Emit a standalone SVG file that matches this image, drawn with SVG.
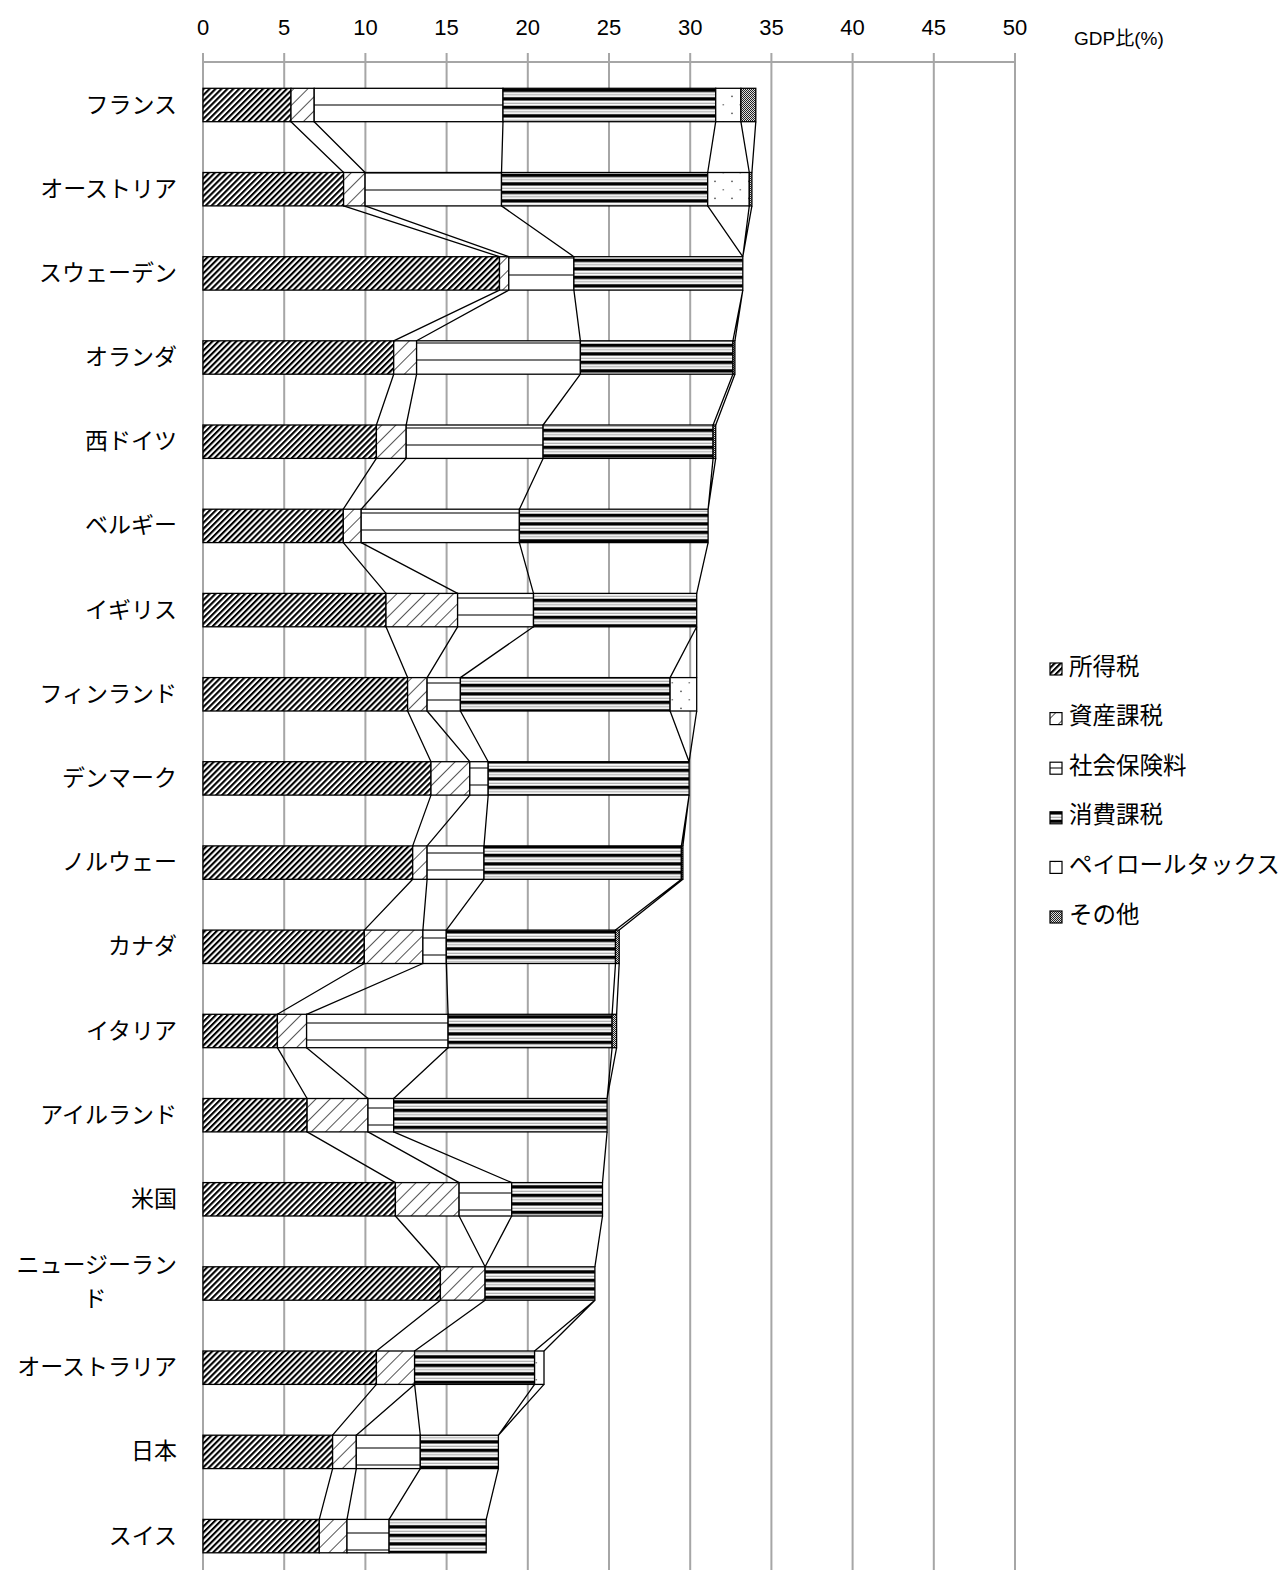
<svg xmlns="http://www.w3.org/2000/svg" width="1282" height="1570" viewBox="0 0 1282 1570">
<style>
.grid{stroke:#a6a6a6;stroke-width:2;fill:none}
.tick{font-family:"Liberation Sans",sans-serif;font-size:22px;fill:#000;text-anchor:middle}
.lab{font-family:"Noto Sans CJK JP",sans-serif;font-size:23px;fill:#000;text-anchor:end}
.leg{font-family:"Noto Sans CJK JP",sans-serif;font-size:23.5px;fill:#000}
.unit{font-family:"Liberation Sans","Noto Sans CJK JP",sans-serif;font-size:19px;fill:#000}
rect.s{stroke:#000;stroke-width:1.3}
.inc{fill:url(#pInc)}
.prop{fill:url(#pProp)}
.soc{fill:url(#pSoc)}
.con{fill:url(#pCon)}
.pay{fill:url(#pPay)}
.oth{fill:url(#pOth)}
.sl{stroke:#000;stroke-width:1.3;fill:none}
.lg{stroke:#000;stroke-width:1.2}
</style>
<defs>
<pattern id="pInc" width="4.2" height="4.2" patternUnits="userSpaceOnUse" patternTransform="rotate(45)"><rect width="4.2" height="4.2" fill="#fff"/><rect width="2.1" height="4.2" fill="#000"/></pattern>
<pattern id="pProp" width="10" height="10" patternUnits="userSpaceOnUse" patternTransform="rotate(45)"><rect width="10" height="10" fill="#fff"/><rect x="0" width="1" height="10" fill="#555"/></pattern>
<pattern id="pSoc" width="17" height="17" patternUnits="userSpaceOnUse"><rect width="17" height="17" fill="#fff"/><rect y="2.4" width="17" height="1.2" fill="#222"/></pattern>
<pattern id="pCon" width="17" height="8.5" patternUnits="userSpaceOnUse"><rect width="17" height="8.5" fill="#fff"/><rect y="3.7" width="17" height="3.4" fill="#000"/><rect y="0.7" width="17" height="1" fill="#999"/></pattern>
<pattern id="pPay" width="17" height="17" patternUnits="userSpaceOnUse"><rect width="17" height="17" fill="#fff"/><circle cx="1" cy="11.3" r="0.9" fill="#555"/><rect x="8.5" y="2.3" width="1.6" height="1" fill="#555"/></pattern>
<pattern id="pOth" width="2" height="2" patternUnits="userSpaceOnUse"><rect width="2" height="2" fill="#ddd"/><rect width="1" height="1" fill="#222"/><rect x="1" y="1" width="1" height="1" fill="#222"/></pattern>
</defs>
<rect width="1282" height="1570" fill="#fff"/>
<g id="axis">
<path class="grid" d="M203,62H1015M203,53V1570M284.2,53V1570M365.4,53V1570M446.6,53V1570M527.8,53V1570M609,53V1570M690.2,53V1570M771.4,53V1570M852.6,53V1570M933.8,53V1570M1015,53V1570"/>
<text class="tick" x="203" y="35">0</text>
<text class="tick" x="284.2" y="35">5</text>
<text class="tick" x="365.4" y="35">10</text>
<text class="tick" x="446.6" y="35">15</text>
<text class="tick" x="527.8" y="35">20</text>
<text class="tick" x="609" y="35">25</text>
<text class="tick" x="690.2" y="35">30</text>
<text class="tick" x="771.4" y="35">35</text>
<text class="tick" x="852.6" y="35">40</text>
<text class="tick" x="933.8" y="35">45</text>
<text class="tick" x="1015" y="35">50</text>
<text class="unit" x="1074" y="45">GDP比(%)</text>
</g>
<g id="connectors">
<path class="sl" d="M291,121.7L343.6,172.5M314.2,121.7L365.1,172.5M503,121.7L501.5,172.5M715.7,121.7L707.7,172.5M740.9,121.7L749.3,172.5M755.8,121.7L751.9,172.5
M343.6,205.9L499.5,256.7M365.1,205.9L508.8,256.7M501.5,205.9L573.9,256.7M707.7,205.9L742.8,256.7M749.3,205.9L742.8,256.7M751.9,205.9L742.8,256.7
M499.5,290.1L393.7,340.8M508.8,290.1L416.6,340.8M573.9,290.1L580.4,340.8M742.8,290.1L732.9,340.8M742.8,290.1L734.9,340.8
M393.7,374.2L376.4,425M416.6,374.2L406.2,425M580.4,374.2L543.1,425M732.9,374.2L713.1,425M734.9,374.2L715.7,425
M376.4,458.4L343.3,509.2M406.2,458.4L361.2,509.2M543.1,458.4L519.4,509.2M713.1,458.4L708.1,509.2M715.7,458.4L708.1,509.2
M343.3,542.6L386,593.4M361.2,542.6L457.6,593.4M519.4,542.6L533.5,593.4M708.1,542.6L696.7,593.4
M386,626.8L407.6,677.6M457.6,626.8L427.1,677.6M533.5,626.8L460.4,677.6M696.7,626.8L670.1,677.6M696.7,626.8L696.7,677.6
M407.6,711L431,761.7M427.1,711L469.8,761.7M460.4,711L488.2,761.7M670.1,711L689.1,761.7M696.7,711L689.1,761.7
M431,795.1L412.7,845.9M469.8,795.1L427.1,845.9M488.2,795.1L484,845.9M689.1,795.1L681.4,845.9M689.1,795.1L682.9,845.9
M412.7,879.3L364.3,930.1M427.1,879.3L422.9,930.1M484,879.3L446.3,930.1M681.4,879.3L615.5,930.1M682.9,879.3L619.2,930.1
M364.3,963.5L277.4,1014.3M422.9,963.5L306.6,1014.3M446.3,963.5L448.1,1014.3M615.5,963.5L612.1,1014.3M619.2,963.5L616.6,1014.3
M277.4,1047.7L307.1,1098.5M306.6,1047.7L368,1098.5M448.1,1047.7L393.7,1098.5M612.1,1047.7L607.1,1098.5M616.6,1047.7L607.1,1098.5
M307.1,1131.9L395.4,1182.6M368,1131.9L459.1,1182.6M393.7,1131.9L511.7,1182.6M607.1,1131.9L602.5,1182.6
M395.4,1216L440.4,1266.8M459.1,1216L485.1,1266.8M511.7,1216L485.1,1266.8M602.5,1216L594.9,1266.8
M440.4,1300.2L376.4,1351M485.1,1300.2L414.6,1351M594.9,1300.2L534.6,1351M594.9,1300.2L544,1351
M376.4,1384.4L332.6,1435.2M414.6,1384.4L356.3,1435.2M414.6,1384.4L420.3,1435.2M534.6,1384.4L498.4,1435.2M544,1384.4L498.4,1435.2
M332.6,1468.6L319.3,1519.4M356.3,1468.6L347,1519.4M420.3,1468.6L389.1,1519.4M498.4,1468.6L486.2,1519.4"/>
</g>
<g id="n-france">
<text class="lab" x="177" y="112.5">フランス</text>
<rect class="s inc" x="203" y="88.3" width="88" height="33.4"/>
<rect class="s prop" x="291" y="88.3" width="23.2" height="33.4"/>
<rect class="s soc" x="314.2" y="88.3" width="188.8" height="33.4"/>
<rect class="s con" x="503" y="88.3" width="212.7" height="33.4"/>
<rect class="s pay" x="715.7" y="88.3" width="25.2" height="33.4"/>
<rect class="s oth" x="740.9" y="88.3" width="14.9" height="33.4"/>
</g>
<g id="n-austria">
<text class="lab" x="177" y="196.7">オーストリア</text>
<rect class="s inc" x="203" y="172.5" width="140.6" height="33.4"/>
<rect class="s prop" x="343.6" y="172.5" width="21.5" height="33.4"/>
<rect class="s soc" x="365.1" y="172.5" width="136.4" height="33.4"/>
<rect class="s con" x="501.5" y="172.5" width="206.2" height="33.4"/>
<rect class="s pay" x="707.7" y="172.5" width="41.6" height="33.4"/>
<rect class="s oth" x="749.3" y="172.5" width="2.6" height="33.4"/>
</g>
<g id="n-sweden">
<text class="lab" x="177" y="280.9">スウェーデン</text>
<rect class="s inc" x="203" y="256.7" width="296.5" height="33.4"/>
<rect class="s prop" x="499.5" y="256.7" width="9.3" height="33.4"/>
<rect class="s soc" x="508.8" y="256.7" width="65.1" height="33.4"/>
<rect class="s con" x="573.9" y="256.7" width="168.9" height="33.4"/>
</g>
<g id="n-netherlands">
<text class="lab" x="177" y="365">オランダ</text>
<rect class="s inc" x="203" y="340.8" width="190.7" height="33.4"/>
<rect class="s prop" x="393.7" y="340.8" width="22.9" height="33.4"/>
<rect class="s soc" x="416.6" y="340.8" width="163.8" height="33.4"/>
<rect class="s con" x="580.4" y="340.8" width="152.5" height="33.4"/>
<rect class="s oth" x="732.9" y="340.8" width="2" height="33.4"/>
</g>
<g id="n-westgermany">
<text class="lab" x="177" y="449.2">西ドイツ</text>
<rect class="s inc" x="203" y="425" width="173.4" height="33.4"/>
<rect class="s prop" x="376.4" y="425" width="29.8" height="33.4"/>
<rect class="s soc" x="406.2" y="425" width="136.9" height="33.4"/>
<rect class="s con" x="543.1" y="425" width="170" height="33.4"/>
<rect class="s oth" x="713.1" y="425" width="2.6" height="33.4"/>
</g>
<g id="n-belgium">
<text class="lab" x="177" y="533.4">ベルギー</text>
<rect class="s inc" x="203" y="509.2" width="140.3" height="33.4"/>
<rect class="s prop" x="343.3" y="509.2" width="17.9" height="33.4"/>
<rect class="s soc" x="361.2" y="509.2" width="158.2" height="33.4"/>
<rect class="s con" x="519.4" y="509.2" width="188.7" height="33.4"/>
</g>
<g id="n-uk">
<text class="lab" x="177" y="617.6">イギリス</text>
<rect class="s inc" x="203" y="593.4" width="183" height="33.4"/>
<rect class="s prop" x="386" y="593.4" width="71.6" height="33.4"/>
<rect class="s soc" x="457.6" y="593.4" width="75.9" height="33.4"/>
<rect class="s con" x="533.5" y="593.4" width="163.2" height="33.4"/>
</g>
<g id="n-finland">
<text class="lab" x="177" y="701.8">フィンランド</text>
<rect class="s inc" x="203" y="677.6" width="204.6" height="33.4"/>
<rect class="s prop" x="407.6" y="677.6" width="19.5" height="33.4"/>
<rect class="s soc" x="427.1" y="677.6" width="33.3" height="33.4"/>
<rect class="s con" x="460.4" y="677.6" width="209.7" height="33.4"/>
<rect class="s pay" x="670.1" y="677.6" width="26.6" height="33.4"/>
</g>
<g id="n-denmark">
<text class="lab" x="177" y="785.9">デンマーク</text>
<rect class="s inc" x="203" y="761.7" width="228" height="33.4"/>
<rect class="s prop" x="431" y="761.7" width="38.8" height="33.4"/>
<rect class="s soc" x="469.8" y="761.7" width="18.4" height="33.4"/>
<rect class="s con" x="488.2" y="761.7" width="200.9" height="33.4"/>
</g>
<g id="n-norway">
<text class="lab" x="177" y="870.1">ノルウェー</text>
<rect class="s inc" x="203" y="845.9" width="209.7" height="33.4"/>
<rect class="s prop" x="412.7" y="845.9" width="14.4" height="33.4"/>
<rect class="s soc" x="427.1" y="845.9" width="56.9" height="33.4"/>
<rect class="s con" x="484" y="845.9" width="197.4" height="33.4"/>
<rect class="s oth" x="681.4" y="845.9" width="1.5" height="33.4"/>
</g>
<g id="n-canada">
<text class="lab" x="177" y="954.3">カナダ</text>
<rect class="s inc" x="203" y="930.1" width="161.3" height="33.4"/>
<rect class="s prop" x="364.3" y="930.1" width="58.6" height="33.4"/>
<rect class="s soc" x="422.9" y="930.1" width="23.4" height="33.4"/>
<rect class="s con" x="446.3" y="930.1" width="169.2" height="33.4"/>
<rect class="s oth" x="615.5" y="930.1" width="3.7" height="33.4"/>
</g>
<g id="n-italy">
<text class="lab" x="177" y="1038.5">イタリア</text>
<rect class="s inc" x="203" y="1014.3" width="74.4" height="33.4"/>
<rect class="s prop" x="277.4" y="1014.3" width="29.2" height="33.4"/>
<rect class="s soc" x="306.6" y="1014.3" width="141.5" height="33.4"/>
<rect class="s con" x="448.1" y="1014.3" width="164" height="33.4"/>
<rect class="s oth" x="612.1" y="1014.3" width="4.5" height="33.4"/>
</g>
<g id="n-ireland">
<text class="lab" x="177" y="1122.7">アイルランド</text>
<rect class="s inc" x="203" y="1098.5" width="104.1" height="33.4"/>
<rect class="s prop" x="307.1" y="1098.5" width="60.9" height="33.4"/>
<rect class="s soc" x="368" y="1098.5" width="25.7" height="33.4"/>
<rect class="s con" x="393.7" y="1098.5" width="213.4" height="33.4"/>
</g>
<g id="n-usa">
<text class="lab" x="177" y="1206.8">米国</text>
<rect class="s inc" x="203" y="1182.6" width="192.4" height="33.4"/>
<rect class="s prop" x="395.4" y="1182.6" width="63.7" height="33.4"/>
<rect class="s soc" x="459.1" y="1182.6" width="52.6" height="33.4"/>
<rect class="s con" x="511.7" y="1182.6" width="90.8" height="33.4"/>
</g>
<g id="n-newzealand">
<text class="lab" x="177" y="1273">ニュージーラン</text>
<text class="lab" x="95" y="1307" style="text-anchor:middle">ド</text>
<rect class="s inc" x="203" y="1266.8" width="237.4" height="33.4"/>
<rect class="s prop" x="440.4" y="1266.8" width="44.7" height="33.4"/>
<rect class="s con" x="485.1" y="1266.8" width="109.8" height="33.4"/>
</g>
<g id="n-australia">
<text class="lab" x="177" y="1375.2">オーストラリア</text>
<rect class="s inc" x="203" y="1351" width="173.4" height="33.4"/>
<rect class="s prop" x="376.4" y="1351" width="38.2" height="33.4"/>
<rect class="s con" x="414.6" y="1351" width="120" height="33.4"/>
<rect class="s pay" x="534.6" y="1351" width="9.4" height="33.4"/>
</g>
<g id="n-japan">
<text class="lab" x="177" y="1459.4">日本</text>
<rect class="s inc" x="203" y="1435.2" width="129.6" height="33.4"/>
<rect class="s prop" x="332.6" y="1435.2" width="23.7" height="33.4"/>
<rect class="s soc" x="356.3" y="1435.2" width="64" height="33.4"/>
<rect class="s con" x="420.3" y="1435.2" width="78.1" height="33.4"/>
</g>
<g id="n-switzerland">
<text class="lab" x="177" y="1543.6">スイス</text>
<rect class="s inc" x="203" y="1519.4" width="116.3" height="33.4"/>
<rect class="s prop" x="319.3" y="1519.4" width="27.7" height="33.4"/>
<rect class="s soc" x="347" y="1519.4" width="42.1" height="33.4"/>
<rect class="s con" x="389.1" y="1519.4" width="97.1" height="33.4"/>
</g>
<g id="legend">
<rect class="inc lg" x="1050" y="663" width="12" height="12"/>
<text class="leg" x="1069" y="674.5">所得税</text>
<rect class="prop lg" x="1050" y="712.6" width="12" height="12"/>
<text class="leg" x="1069" y="724.1">資産課税</text>
<rect class="soc lg" x="1050" y="762.2" width="12" height="12"/>
<text class="leg" x="1069" y="773.7">社会保険料</text>
<rect class="con lg" x="1050" y="811.8" width="12" height="12"/>
<text class="leg" x="1069" y="823.3">消費課税</text>
<rect class="pay lg" x="1050" y="861.4" width="12" height="12"/>
<text class="leg" x="1069" y="872.9">ペイロールタックス</text>
<rect class="oth lg" x="1050" y="911" width="12" height="12"/>
<text class="leg" x="1069" y="922.5">その他</text>
</g>
</svg>
